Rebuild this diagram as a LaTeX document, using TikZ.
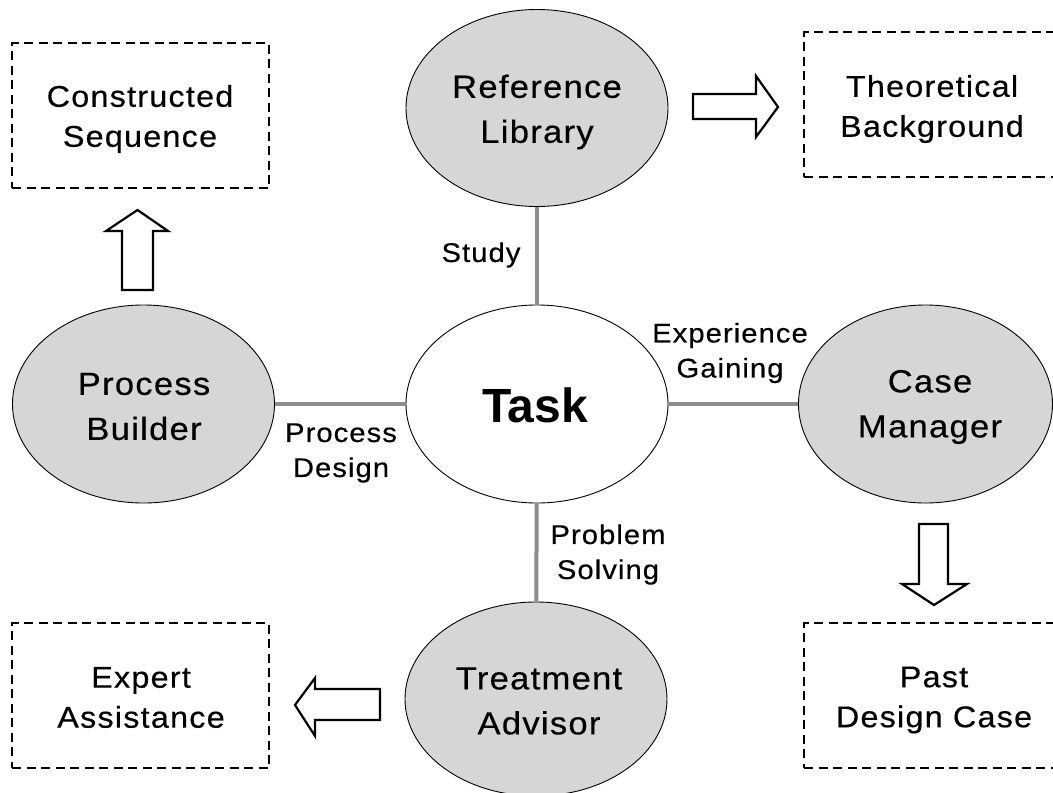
\documentclass[tikz,border=0pt]{standalone}
\usepackage{fontspec}
\setmainfont{Liberation Sans}[LetterSpace=4, FakeStretch=1.08, FakeBold=0.4]
\newfontfamily\taskfont{Liberation Sans}
\usetikzlibrary{shapes.geometric}

\definecolor{blobfill}{RGB}{214,214,214}
\definecolor{linkgray}{RGB}{140,140,140}

\tikzset{
  module/.style={ellipse, draw=black, line width=0.9pt, fill=blobfill,
    inner sep=0pt, align=center, font={\fontsize{32}{45}\selectfont}},
  resultbox/.style={rectangle, draw=black, line width=2.8pt,
    dash pattern=on 9pt off 5.5pt, inner sep=0pt, align=center,
    font={\fontsize{30}{40}\selectfont}},
  link/.style={draw=linkgray, line width=4pt},
  linklabel/.style={align=center, inner sep=0pt,
    font={\fontsize{27}{35}\selectfont}},
  blockarrow/.style={draw=black, line width=2.2pt, fill=white, line join=miter},
  txt/.style={align=center, inner sep=0pt}
}

\begin{document}
\begin{tikzpicture}[x=1pt, y=-1pt]
  \clip (0,0) rectangle (1053,793);
  \fill[white] (0,0) rectangle (1053,793);

  % central task and the four modules around it
  \node[module, fill=white, minimum width=262pt, minimum height=198pt] (task) at (537,404) {};
  \node[txt, font={\taskfont\bfseries\fontsize{48}{56}\selectfont}] (tasktxt) at (535,405.5) {Task};

  \node[module, minimum width=262pt, minimum height=197pt] (reflib) at (537,108) {};
  \node[txt, font={\fontsize{32}{45}\selectfont}] (reflibtxt) at (537,112) {Reference\\Library};

  \node[module, minimum width=262pt, minimum height=198pt] (builder) at (143.5,404) {};
  \node[txt, font={\fontsize{32}{45}\selectfont}] (buildertxt) at (144,406.5) {Process\\Builder};

  \node[module, minimum width=254pt, minimum height=198pt] (casemgr) at (925.5,404) {};
  \node[txt, font={\fontsize{32}{45}\selectfont}] (casemgrtxt) at (930,407) {Case\\Manager};

  \node[module, minimum width=262pt, minimum height=194pt] (advisor) at (536,699) {};
  \node[txt, font={\fontsize{32}{45}\selectfont}] (advisortxt) at (539,701) {Treatment\\Advisor};

  % links between the task and the modules
  \draw[link] (reflib) -- (task);
  \draw[link] (builder) -- (task);
  \draw[link] (task) -- (casemgr);
  \draw[link] (task) -- (advisor);

  % link labels
  \node[linklabel] (lstudy) at (481,255) {Study};
  \node[linklabel] (ldesign) at (341,453) {Process\\Design};
  \node[linklabel] (lgain) at (730,353) {Experience\\Gaining};
  \node[linklabel] (lsolve) at (608,554.5) {Problem\\Solving};

  % outputs of the modules
  \node[resultbox, minimum width=257pt, minimum height=145pt] (seq) at (140.5,115.5) {};
  \node[txt, font={\fontsize{30}{40}\selectfont}] (seqtxt) at (140,119) {Constructed\\Sequence};

  \node[resultbox, minimum width=256pt, minimum height=145pt] (theory) at (932,104.5) {};
  \node[txt, font={\fontsize{30}{40}\selectfont}] (theorytxt) at (932,109) {Theoretical\\Background};

  \node[resultbox, minimum width=257pt, minimum height=145pt] (expert) at (140.5,695.5) {};
  \node[txt, font={\fontsize{30}{40}\selectfont}] (experttxt) at (141,697.5) {Expert\\Assistance};

  \node[resultbox, minimum width=256pt, minimum height=145pt] (pastcase) at (932,695.5) {};
  \node[txt, font={\fontsize{30}{40}\selectfont}] (pastcasetxt) at (934,700) {Past\\Design Case};

  % hollow block arrows from modules to their outputs
  \draw[blockarrow] (122,290) -- (122,231) -- (106,231) -- (137.5,210) -- (168,231)
    -- (153,231) -- (153,290) -- cycle;
  \draw[blockarrow] (693,94) -- (756,94) -- (756,76) -- (778,107) -- (756,137)
    -- (756,119) -- (693,119) -- cycle;
  \draw[blockarrow] (919,524) -- (948,524) -- (948,584) -- (967,584) -- (934,605)
    -- (902,584) -- (919,584) -- cycle;
  \draw[blockarrow] (380,689) -- (315,689) -- (315,678) -- (295,705) -- (315,736)
    -- (315,720) -- (380,720) -- cycle;
\end{tikzpicture}
\end{document}
